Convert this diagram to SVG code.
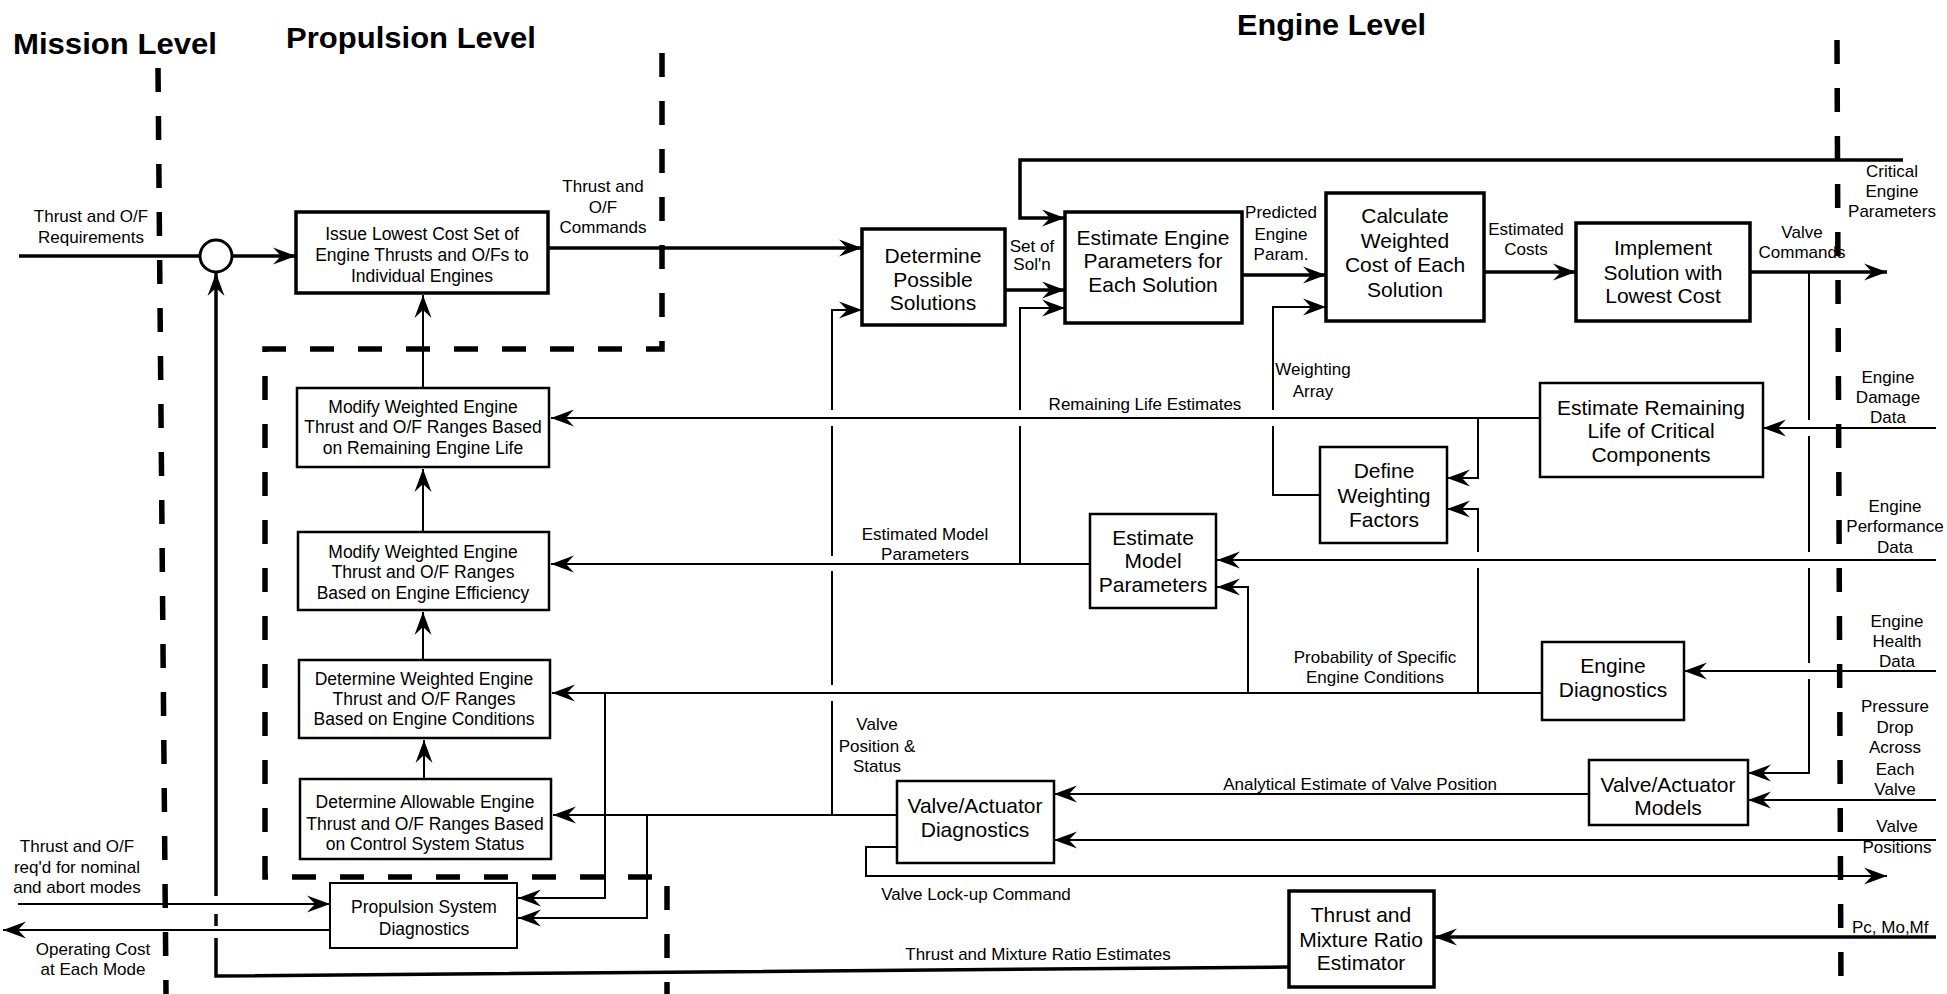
<svg xmlns="http://www.w3.org/2000/svg" width="1947" height="994" viewBox="0 0 1947 994">
  <style>
    text { font-family: "Liberation Sans", Arial, Helvetica, sans-serif; fill: #000; }
    .title { font-size: 30px; font-weight: bold; }
    .bt { font-size: 21px; text-anchor: middle; }
    .bs { font-size: 17.5px; text-anchor: middle; }
    .lb { font-size: 17px; text-anchor: middle; }
    .bk { fill: #fff; stroke: #000; stroke-width: 3.5; }
    .bm { fill: #fff; stroke: #000; stroke-width: 2.5; }
    .bn { fill: #fff; stroke: #000; stroke-width: 2; }
    .thk { fill: none; stroke: #000; stroke-width: 3.5; }
    .thn { fill: none; stroke: #000; stroke-width: 2; }
    .dash { fill: none; stroke: #000; stroke-width: 5.5; stroke-dasharray: 24 24; }
    .ah { marker-end: url(#arrow); }
  </style>
  <defs>
    <marker id="arrow" markerUnits="userSpaceOnUse" markerWidth="26" markerHeight="22" viewBox="-24 -11 26 22" refX="0" refY="0" orient="auto">
      <path d="M0,0 L-23,-8.5 L-15,0 L-23,8.5 Z" fill="#000"/>
    </marker>
  </defs>
  <rect width="1947" height="994" fill="#fff"/>

  <!-- level boundaries -->
  <g id="boundaries">
    <path class="dash" d="M158,68 L166,994"/>
    <path class="dash" d="M662,53 V349 H265 V877 H667 V994"/>
    <path class="dash" d="M1837,40 L1841,994"/>
  </g>

  <g id="titles">
    <text class="title" x="13" y="54" textLength="204" lengthAdjust="spacingAndGlyphs">Mission Level</text>
    <text class="title" x="286" y="48" textLength="250" lengthAdjust="spacingAndGlyphs">Propulsion Level</text>
    <text class="title" x="1237" y="35" textLength="189" lengthAdjust="spacingAndGlyphs">Engine Level</text>
  </g>

  <!-- signal lines -->
  <g id="connectors">
    <!-- main command path -->
    <path class="thk" d="M19,256 H200"/>
    <path class="thk ah" d="M232,256 H296"/>
    <path class="thk ah" d="M548,248 H862"/>
    <path class="thk ah" d="M1903,160 H1020 V218 H1065"/>
    <path class="thk ah" d="M1005,290 H1065"/>
    <path class="thk ah" d="M1242,275 H1326"/>
    <path class="thk ah" d="M1484,272 H1576"/>
    <path class="thk ah" d="M1750,272 H1887"/>
    <!-- mixture ratio feedback to summing junction -->
    <path class="thk ah" d="M1936,937 H1434"/>
    <path class="thk" d="M1289,967 L216,976 V938"/>
    <path class="thk" d="M216,926 V914"/>
    <path class="thk ah" d="M216,896 V273"/>

    <!-- valve position & status into solution search -->
    <path class="thn" d="M832,815 V701"/>
    <path class="thn" d="M832,685 V571"/>
    <path class="thn" d="M832,556 V426"/>
    <path class="thn ah" d="M832,410 V310 H862"/>
    <!-- model parameters into engine parameter estimate -->
    <path class="thn" d="M1020,564 V426"/>
    <path class="thn ah" d="M1020,410 V308 H1065"/>
    <!-- weighting array -->
    <path class="thn" d="M1320,495 H1273 V426"/>
    <path class="thn ah" d="M1273,410 V307 H1326"/>

    <!-- remaining life -->
    <path class="thn ah" d="M1540,418 H551"/>
    <path class="thn ah" d="M1478,418 V478 H1447"/>
    <!-- probability of specific engine conditions -->
    <path class="thn ah" d="M1542,693 H552"/>
    <path class="thn" d="M1478,693 V568"/>
    <path class="thn ah" d="M1478,552 V509 H1447"/>
    <path class="thn ah" d="M1248,693 V587 H1217"/>
    <path class="thn ah" d="M605,693 V898 H518"/>
    <!-- estimated model parameters -->
    <path class="thn ah" d="M1090,564 H551"/>

    <!-- engine sensor data -->
    <path class="thn ah" d="M1936,428 H1763"/>
    <path class="thn ah" d="M1936,560 H1217"/>
    <path class="thn ah" d="M1936,671 H1684"/>
    <path class="thn ah" d="M1936,800 H1748"/>
    <path class="thn ah" d="M1936,840 H1054"/>
    <!-- valve commands to actuator models -->
    <path class="thn" d="M1809,272 V420"/>
    <path class="thn" d="M1809,436 V552"/>
    <path class="thn" d="M1809,568 V663"/>
    <path class="thn ah" d="M1809,679 V773 H1748"/>
    <path class="thn ah" d="M1589,794 H1054"/>

    <!-- valve/actuator diagnostics outputs -->
    <path class="thn ah" d="M897,815 H553"/>
    <path class="thn ah" d="M647,815 V918 H518"/>
    <path class="thn ah" d="M897,847 H866 V876 H1887"/>

    <!-- propulsion level stack -->
    <path class="thn ah" d="M423,388 V295"/>
    <path class="thn ah" d="M423,532 V469"/>
    <path class="thn ah" d="M423,660 V612"/>
    <path class="thn ah" d="M424,779 V740"/>

    <!-- mission level interface -->
    <path class="thn ah" d="M18,904 H330"/>
    <path class="thn ah" d="M330,930 H3"/>
  </g>

  <g id="connector-labels">
    <text class="lb"><tspan x="91" y="222">Thrust and O/F</tspan><tspan x="91" y="243">Requirements</tspan></text>
    <text class="lb"><tspan x="603" y="192">Thrust and</tspan><tspan x="603" y="213">O/F</tspan><tspan x="603" y="233">Commands</tspan></text>
    <text class="lb"><tspan x="1032" y="252">Set of</tspan><tspan x="1032" y="270">Sol'n</tspan></text>
    <text class="lb"><tspan x="1281" y="218">Predicted</tspan><tspan x="1281" y="240">Engine</tspan><tspan x="1281" y="260">Param.</tspan></text>
    <text class="lb"><tspan x="1526" y="235">Estimated</tspan><tspan x="1526" y="255">Costs</tspan></text>
    <text class="lb"><tspan x="1802" y="238">Valve</tspan><tspan x="1802" y="258">Commands</tspan></text>
    <text class="lb"><tspan x="1892" y="177">Critical</tspan><tspan x="1892" y="197">Engine</tspan><tspan x="1892" y="217">Parameters</tspan></text>
    <text class="lb"><tspan x="1313" y="375">Weighting</tspan><tspan x="1313" y="397">Array</tspan></text>
    <text class="lb" x="1145" y="410">Remaining Life Estimates</text>
    <text class="lb"><tspan x="925" y="540">Estimated Model</tspan><tspan x="925" y="560">Parameters</tspan></text>
    <text class="lb"><tspan x="1375" y="663">Probability of Specific</tspan><tspan x="1375" y="683">Engine Conditions</tspan></text>
    <text class="lb"><tspan x="1888" y="383">Engine</tspan><tspan x="1888" y="403">Damage</tspan><tspan x="1888" y="423">Data</tspan></text>
    <text class="lb"><tspan x="1895" y="512">Engine</tspan><tspan x="1895" y="532">Performance</tspan><tspan x="1895" y="553">Data</tspan></text>
    <text class="lb"><tspan x="1897" y="627">Engine</tspan><tspan x="1897" y="647">Health</tspan><tspan x="1897" y="667">Data</tspan></text>
    <text class="lb"><tspan x="1895" y="712">Pressure</tspan><tspan x="1895" y="733">Drop</tspan><tspan x="1895" y="753">Across</tspan><tspan x="1895" y="775">Each</tspan><tspan x="1895" y="795">Valve</tspan></text>
    <text class="lb"><tspan x="1897" y="832">Valve</tspan><tspan x="1897" y="853">Positions</tspan></text>
    <text class="lb" x="1360" y="790">Analytical Estimate of Valve Position</text>
    <text class="lb"><tspan x="877" y="730">Valve</tspan><tspan x="877" y="752">Position &amp;</tspan><tspan x="877" y="772">Status</tspan></text>
    <text class="lb" x="976" y="900">Valve Lock-up Command</text>
    <text class="lb" x="1038" y="960">Thrust and Mixture Ratio Estimates</text>
    <text class="lb" x="1852" y="933" style="text-anchor:start">Pc, Mo,Mf</text>
    <text class="lb"><tspan x="77" y="852">Thrust and O/F</tspan><tspan x="77" y="873">req'd for nominal</tspan><tspan x="77" y="893">and abort modes</tspan></text>
    <text class="lb"><tspan x="93" y="955">Operating Cost</tspan><tspan x="93" y="975">at Each Mode</tspan></text>
  </g>

  <!-- summing junction -->
  <g id="sum-junction">
    <circle cx="216" cy="256" r="16" fill="#fff" stroke="#000" stroke-width="3"/>
  </g>

  <g id="issue-lowest-cost">
    <rect class="bk" x="296" y="212" width="252" height="81"/>
    <text class="bs"><tspan x="422" y="240">Issue Lowest Cost Set of</tspan><tspan x="422" y="261">Engine Thrusts and O/Fs to</tspan><tspan x="422" y="282">Individual Engines</tspan></text>
  </g>
  <g id="modify-remaining-life">
    <rect class="bm" x="297" y="388" width="252" height="79"/>
    <text class="bs"><tspan x="423" y="413">Modify Weighted Engine</tspan><tspan x="423" y="433">Thrust and O/F Ranges Based</tspan><tspan x="423" y="454">on Remaining Engine Life</tspan></text>
  </g>
  <g id="modify-efficiency">
    <rect class="bm" x="298" y="532" width="251" height="78"/>
    <text class="bs"><tspan x="423" y="558">Modify Weighted Engine</tspan><tspan x="423" y="578">Thrust and O/F Ranges</tspan><tspan x="423" y="599">Based on Engine Efficiency</tspan></text>
  </g>
  <g id="determine-weighted">
    <rect class="bm" x="299" y="660" width="251" height="78"/>
    <text class="bs"><tspan x="424" y="685">Determine Weighted Engine</tspan><tspan x="424" y="705">Thrust and  O/F Ranges</tspan><tspan x="424" y="725">Based on Engine Conditions</tspan></text>
  </g>
  <g id="determine-allowable">
    <rect class="bm" x="300" y="779" width="251" height="80"/>
    <text class="bs"><tspan x="425" y="808">Determine Allowable Engine</tspan><tspan x="425" y="830">Thrust and O/F Ranges Based</tspan><tspan x="425" y="850">on Control System Status</tspan></text>
  </g>
  <g id="propulsion-diagnostics">
    <rect class="bn" x="330" y="883" width="187" height="65"/>
    <text class="bs"><tspan x="424" y="913">Propulsion System</tspan><tspan x="424" y="935">Diagnostics</tspan></text>
  </g>

  <g id="possible-solutions">
    <rect class="bk" x="862" y="229" width="143" height="96"/>
    <text class="bt"><tspan x="933" y="263">Determine</tspan><tspan x="933" y="287">Possible</tspan><tspan x="933" y="310">Solutions</tspan></text>
  </g>
  <g id="estimate-engine-params">
    <rect class="bk" x="1065" y="212" width="177" height="111"/>
    <text class="bt"><tspan x="1153" y="245">Estimate Engine</tspan><tspan x="1153" y="268">Parameters for</tspan><tspan x="1153" y="292">Each  Solution</tspan></text>
  </g>
  <g id="weighted-cost">
    <rect class="bk" x="1326" y="193" width="158" height="128"/>
    <text class="bt"><tspan x="1405" y="223">Calculate</tspan><tspan x="1405" y="248">Weighted</tspan><tspan x="1405" y="272">Cost of Each</tspan><tspan x="1405" y="297">Solution</tspan></text>
  </g>
  <g id="implement-solution">
    <rect class="bk" x="1576" y="223" width="174" height="98"/>
    <text class="bt"><tspan x="1663" y="255">Implement</tspan><tspan x="1663" y="280">Solution with</tspan><tspan x="1663" y="303">Lowest Cost</tspan></text>
  </g>
  <g id="remaining-life">
    <rect class="bm" x="1540" y="383" width="223" height="94"/>
    <text class="bt"><tspan x="1651" y="415">Estimate Remaining</tspan><tspan x="1651" y="438">Life of Critical</tspan><tspan x="1651" y="462">Components</tspan></text>
  </g>
  <g id="weighting-factors">
    <rect class="bm" x="1320" y="447" width="127" height="96"/>
    <text class="bt"><tspan x="1384" y="478">Define</tspan><tspan x="1384" y="503">Weighting</tspan><tspan x="1384" y="527">Factors</tspan></text>
  </g>
  <g id="model-parameters">
    <rect class="bm" x="1090" y="514" width="126" height="94"/>
    <text class="bt"><tspan x="1153" y="545">Estimate</tspan><tspan x="1153" y="568">Model</tspan><tspan x="1153" y="592">Parameters</tspan></text>
  </g>
  <g id="engine-diagnostics">
    <rect class="bm" x="1542" y="642" width="142" height="78"/>
    <text class="bt"><tspan x="1613" y="673">Engine</tspan><tspan x="1613" y="697">Diagnostics</tspan></text>
  </g>
  <g id="actuator-models">
    <rect class="bm" x="1589" y="760" width="159" height="65"/>
    <text class="bt"><tspan x="1668" y="792">Valve/Actuator</tspan><tspan x="1668" y="815">Models</tspan></text>
  </g>
  <g id="actuator-diagnostics">
    <rect class="bm" x="897" y="781" width="157" height="82"/>
    <text class="bt"><tspan x="975" y="813">Valve/Actuator</tspan><tspan x="975" y="837">Diagnostics</tspan></text>
  </g>
  <g id="mixture-ratio-estimator">
    <rect class="bk" x="1289" y="891" width="145" height="96"/>
    <text class="bt"><tspan x="1361" y="922">Thrust and</tspan><tspan x="1361" y="947">Mixture Ratio</tspan><tspan x="1361" y="970">Estimator</tspan></text>
  </g>
</svg>
